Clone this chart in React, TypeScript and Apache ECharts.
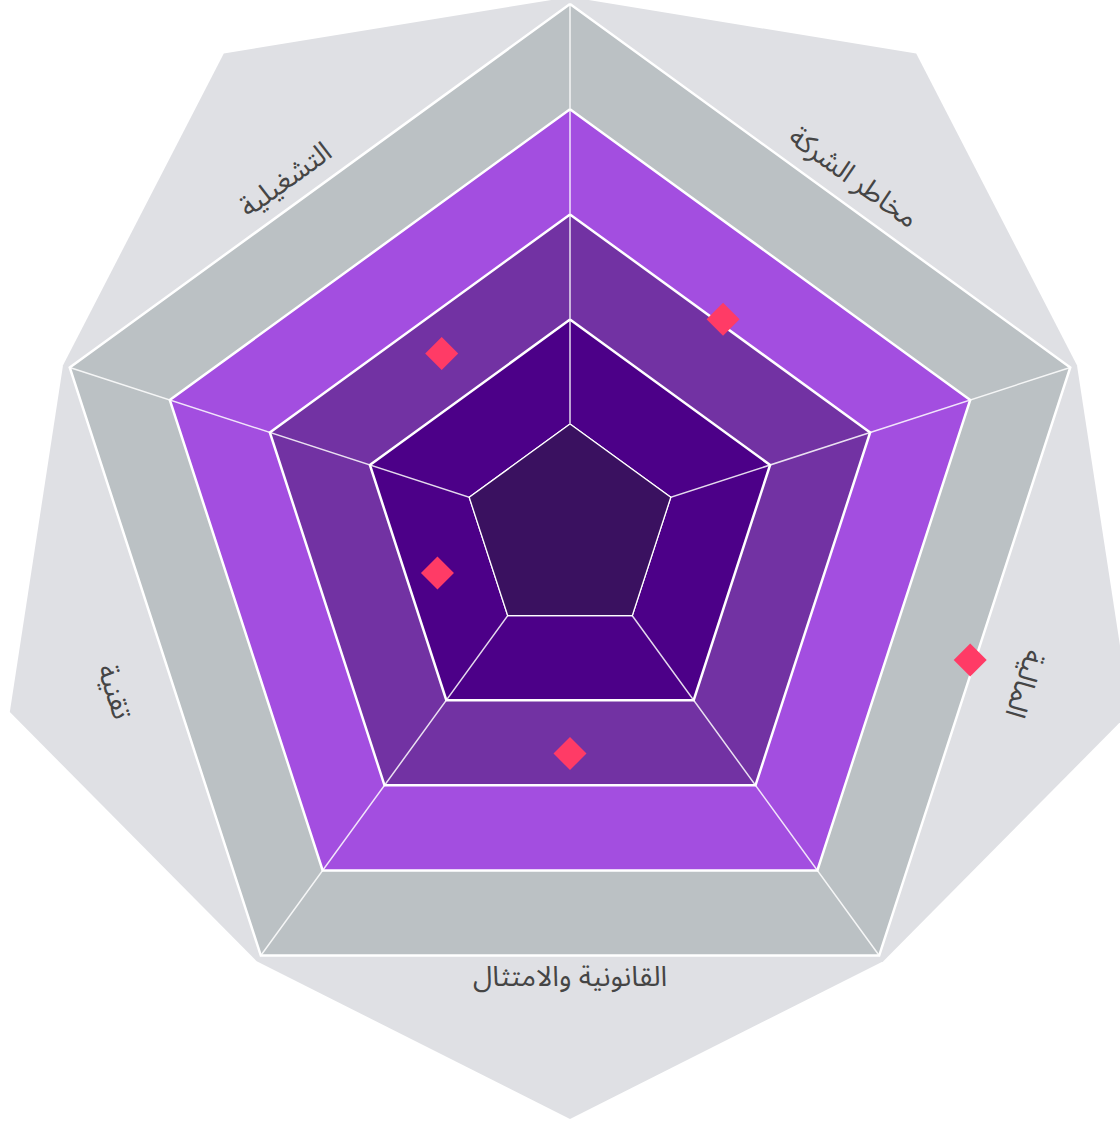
import React, { useEffect, useRef } from "react";
import * as echarts from "echarts";

// Risk categories (outer, rotated axes) and their scores (0-100)
const riskCategories = ["مخاطر الشركة", "التشغيلية", "تقنية", "القانونية والامتثال", "المالية"];
const riskScores = [49.5, 41.5, 26.5, 42.5, 80];
const scoreMax = 100;

// Level grid (5 bands) on the main pentagon
const levelAxes = ["", "", "", "", ""];
const levelMax = 5;
const coreLevel = [1, 1, 1, 1, 1];
const ringColors = ["#3a1160", "#4c0088", "#7232a3", "#a34ee0", "#bbc1c4"];

// Light backdrop (10-point outline)
const backdropAxes = ["", "", "", "", "", "", "", "", "", ""];
const backdropValues = [90.5, 100, 90.5, 100, 90.5, 100, 90.5, 100, 90.5, 100];

// label rotations (degrees)
const labelRotations = [-36, 36, -72, 0, -108];
const labelPositions: [number, number][] = [
  [853, 178],
  [286, 180],
  [114, 692],
  [570, 977],
  [1024, 684],
];

const CX = 570;
const CY = 530;
const R = 526;
const R_BACK = 589;

export default function App() {
  const ref = useRef<HTMLDivElement>(null);
  useEffect(() => {
    if (!ref.current) return;
    const chart = echarts.init(ref.current, null, { renderer: "svg" });
    const hidden = {
      axisName: { show: false },
      axisLine: { show: false },
      splitLine: { show: false },
      splitArea: { show: false },
      axisTick: { show: false },
      axisLabel: { show: false },
    };
    chart.setOption({
      animation: false,
      backgroundColor: "#ffffff",
      radar: [
        {
          indicator: levelAxes.map((n) => ({ name: n, max: levelMax })),
          center: [CX, CY],
          radius: R,
          startAngle: 90,
          splitNumber: 5,
          shape: "polygon",
          axisName: { show: false },
          splitArea: { show: true, areaStyle: { color: ringColors, opacity: 1 } },
          splitLine: { show: true, lineStyle: { color: "#ffffff", width: 2.5 } },
          axisLine: { show: true, lineStyle: { color: "rgba(255,255,255,0.85)", width: 1.5 } },
          z: 1,
        },
        {
          indicator: backdropAxes.map((n) => ({ name: n, max: 100 })),
          center: [CX, CY],
          radius: R_BACK,
          startAngle: 90,
          shape: "polygon",
          ...hidden,
          z: 0,
        },
        {
          indicator: riskCategories.map((n) => ({ name: n, max: scoreMax })),
          center: [CX, CY],
          radius: R,
          startAngle: 54,
          shape: "polygon",
          ...hidden,
          z: 0,
        },
      ],
      graphic: riskCategories.map((name, i) => ({
        type: "text",
        x: labelPositions[i][0],
        y: labelPositions[i][1],
        rotation: (labelRotations[i] * Math.PI) / 180,
        z: 10,
        style: {
          text: name,
          fill: "#454545",
          font: "28px 'Noto Sans Arabic', 'Noto Sans', 'DejaVu Sans', sans-serif",
          align: "center",
          verticalAlign: "middle",
        },
      })),
      series: [
        {
          type: "radar",
          radarIndex: 1,
          z: 0,
          symbol: "none",
          silent: true,
          lineStyle: { width: 0, opacity: 0 },
          areaStyle: { color: "#dfe0e4", opacity: 1 },
          data: [{ value: backdropValues }],
        },
        {
          type: "radar",
          radarIndex: 0,
          z: 2,
          symbol: "none",
          silent: true,
          lineStyle: { color: "#ffffff", width: 2.5 },
          areaStyle: { color: ringColors[0], opacity: 1 },
          data: [{ value: coreLevel }],
        },
        {
          type: "radar",
          radarIndex: 2,
          z: 3,
          symbol: "diamond",
          symbolSize: 33,
          lineStyle: { width: 0, opacity: 0 },
          itemStyle: { color: "#ff3b66" },
          data: [{ value: riskScores, name: "المخاطر" }],
        },
      ],
    });
    return () => chart.dispose();
  }, []);
  return (
    <div
      ref={ref}
      style={{ position: "absolute", left: 0, top: 0, width: 1120, height: 1124 }}
    />
  );
}
